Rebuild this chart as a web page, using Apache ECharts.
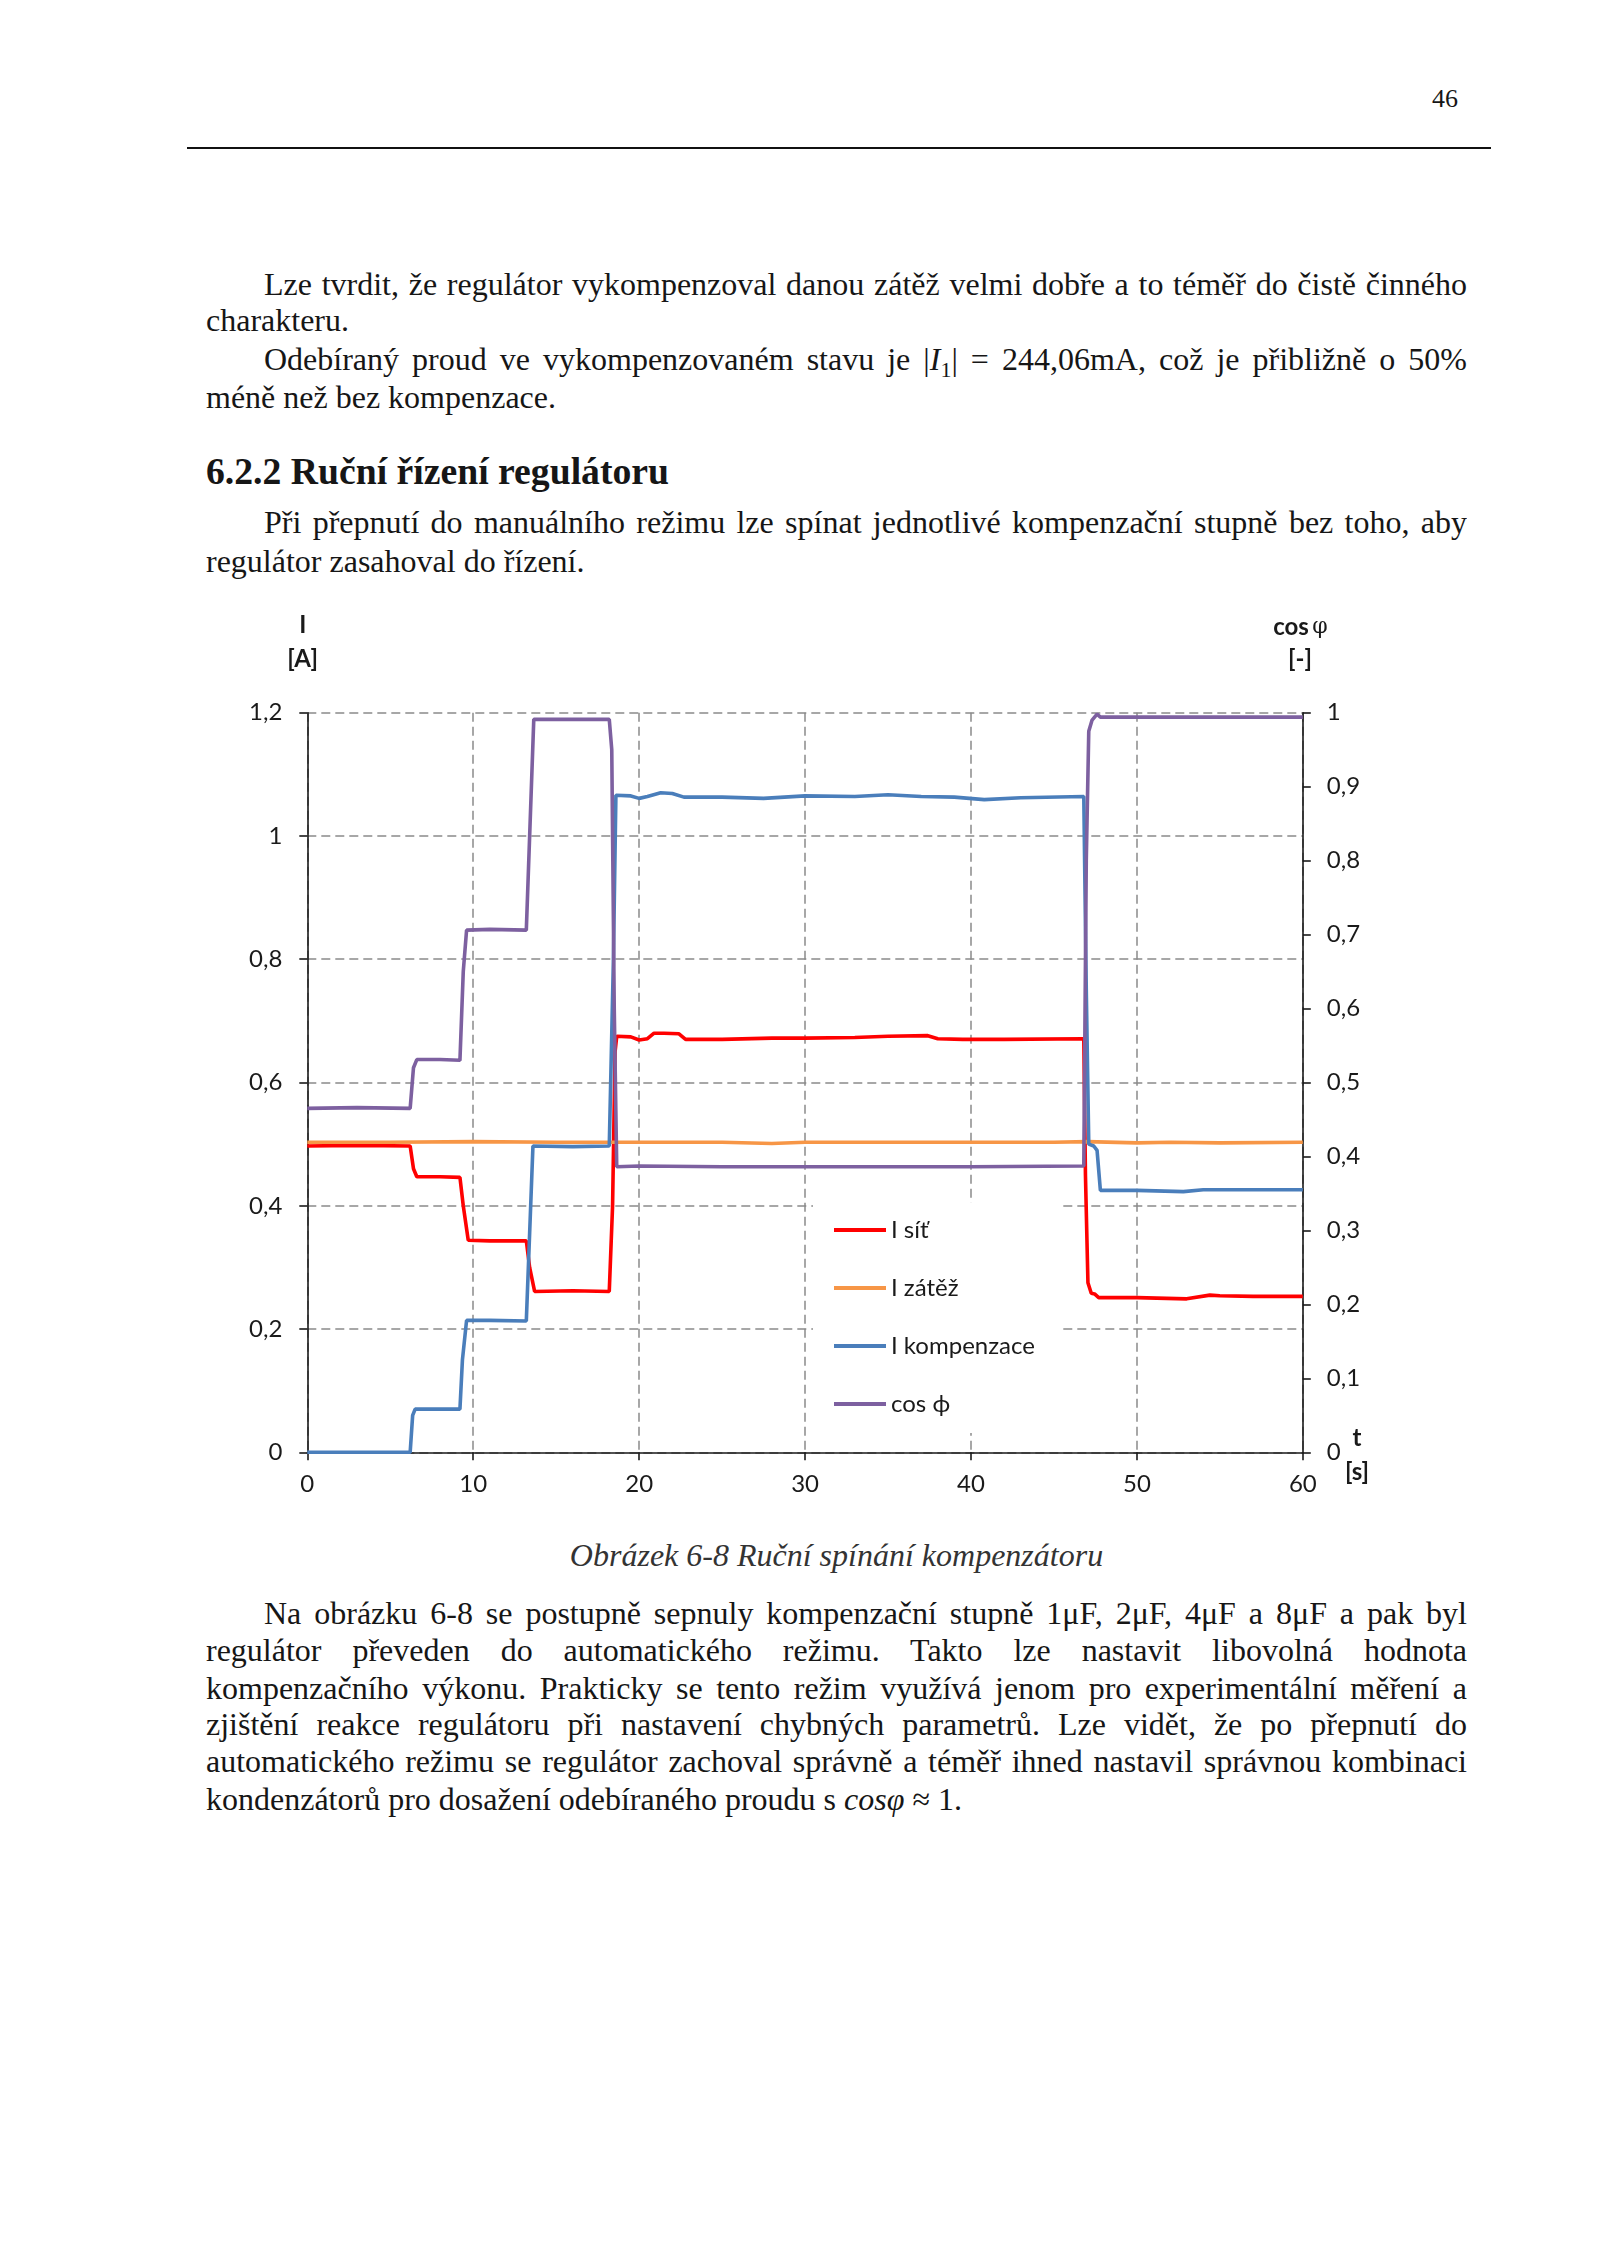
<!DOCTYPE html>
<html><head><meta charset="utf-8">
<script src="https://cdn.jsdelivr.net/npm/echarts@6/dist/echarts.min.js"></script>
<style>
html,body{margin:0;padding:0;background:#fff;}
body{width:1600px;height:2262px;position:relative;overflow:hidden;font-family:'Liberation Serif','Times New Roman',serif;color:#161616;}
.t{position:absolute;font-size:32px;line-height:37px;white-space:nowrap;}
.j{text-align:justify;text-align-last:justify;white-space:normal;overflow:hidden;height:37px;}
.ind{left:264px;width:1203px;}
.full{left:206px;width:1261px;}
.l{left:206px;}
#chart{position:absolute;left:200px;top:580px;width:1250px;height:950px;}
</style></head>
<body>
<div class="t" style="left:1400px;width:58px;text-align:right;top:84px;font-size:26px;line-height:30px;">46</div>
<div style="position:absolute;left:187px;top:147px;width:1304px;height:2px;background:#111;"></div>

<div class="t j ind" style="top:266px;">Lze tvrdit, že regulátor vykompenzoval danou zátěž velmi dobře a to téměř do čistě činného</div>
<div class="t l" style="top:302px;">charakteru.</div>
<div class="t j ind" style="top:341px;">Odebíraný proud ve vykompenzovaném stavu je |<i>I</i><sub style="font-size:22px;line-height:0;">1</sub>| = 244,06mA, což je přibližně o 50%</div>
<div class="t l" style="top:379px;">méně než bez kompenzace.</div>
<div class="t l" style="top:449px;font-weight:bold;font-size:37.7px;line-height:44px;">6.2.2 Ruční řízení regulátoru</div>
<div class="t j ind" style="top:504px;">Při přepnutí do manuálního režimu lze spínat jednotlivé kompenzační stupně bez toho, aby</div>
<div class="t l" style="top:543px;">regulátor zasahoval do řízení.</div>

<div id="chart"></div>

<div class="t" style="left:206px;width:1261px;text-align:center;top:1537px;font-style:italic;color:#333;">Obrázek 6-8 Ruční spínání kompenzátoru</div>

<div class="t j ind" style="top:1595px;">Na obrázku 6-8 se postupně sepnuly kompenzační stupně 1μF, 2μF, 4μF a 8μF a pak byl</div>
<div class="t j full" style="top:1632px;">regulátor převeden do automatického režimu. Takto lze nastavit libovolná hodnota</div>
<div class="t j full" style="top:1670px;">kompenzačního výkonu. Prakticky se tento režim využívá jenom pro experimentální měření a</div>
<div class="t j full" style="top:1706px;">zjištění reakce regulátoru při nastavení chybných parametrů. Lze vidět, že po přepnutí do</div>
<div class="t j full" style="top:1743px;">automatického režimu se regulátor zachoval správně a téměř ihned nastavil správnou kombinaci</div>
<div class="t l" style="top:1781px;">kondenzátorů pro dosažení odebíraného proudu s <i>cosφ</i> ≈ 1.</div>

<script>
// ---- data ----
const seriesNames = ['I síť', 'I zátěž', 'I kompenzace', 'cos ϕ'];
const xTicks = [0, 10, 20, 30, 40, 50, 60];
const leftTicks = [0, 0.2, 0.4, 0.6, 0.8, 1, 1.2];
const rightTicks = [0, 0.1, 0.2, 0.3, 0.4, 0.5, 0.6, 0.7, 0.8, 0.9, 1];

const tSit = [0, 3, 6.2, 6.4, 6.6, 8, 9.2, 9.4, 9.7, 11, 13.2, 13.4, 13.7, 16, 18.2, 18.4, 18.55, 18.65, 19.5, 20, 20.5, 20.9, 21.5, 22.4, 22.8, 25, 28, 30, 33, 35, 37.4, 38, 39.5, 42, 46.8, 46.9, 47.05, 47.25, 47.45, 47.7, 50, 53, 54.4, 55, 57, 60];
const iSit = [0.497, 0.498, 0.497, 0.46, 0.447, 0.447, 0.446, 0.40, 0.344, 0.343, 0.343, 0.30, 0.261, 0.262, 0.261, 0.40, 0.65, 0.675, 0.674, 0.669, 0.671, 0.680, 0.680, 0.679, 0.670, 0.670, 0.672, 0.672, 0.673, 0.675, 0.676, 0.671, 0.670, 0.670, 0.671, 0.45, 0.275, 0.258, 0.257, 0.251, 0.251, 0.249, 0.255, 0.254, 0.253, 0.253];

const tZatez = [0, 5, 10, 15, 20, 25, 28, 30, 35, 40, 45, 47, 50, 52, 55, 60];
const iZatez = [0.503, 0.503, 0.504, 0.503, 0.503, 0.503, 0.501, 0.503, 0.503, 0.503, 0.503, 0.504, 0.502, 0.503, 0.502, 0.503];

const tKomp = [0, 3, 6.2, 6.35, 6.5, 8, 9.2, 9.35, 9.6, 11, 13.2, 13.6, 16, 18.2, 18.45, 18.6, 19.5, 20, 20.5, 21.3, 22, 22.7, 25, 27.5, 30, 33, 35, 37, 39, 40.8, 43, 46.8, 46.95, 47.1, 47.4, 47.6, 47.8, 50, 52.8, 54, 57, 60];
const iKomp = [0, 0, 0, 0.06, 0.070, 0.070, 0.070, 0.15, 0.214, 0.214, 0.213, 0.497, 0.496, 0.497, 0.8, 1.066, 1.065, 1.061, 1.064, 1.070, 1.069, 1.063, 1.063, 1.061, 1.065, 1.064, 1.067, 1.064, 1.063, 1.059, 1.062, 1.064, 0.75, 0.50, 0.497, 0.49, 0.425, 0.425, 0.423, 0.426, 0.426, 0.426];

const tCos = [0, 3, 6.2, 6.4, 6.6, 8, 9.2, 9.4, 9.6, 11, 13.2, 13.65, 16, 18.2, 18.35, 18.5, 18.65, 20, 25, 30, 35, 40, 46.8, 46.95, 47.1, 47.3, 47.6, 47.8, 50, 55, 60];
const cosPhi = [0.465, 0.466, 0.465, 0.52, 0.531, 0.531, 0.530, 0.65, 0.706, 0.707, 0.706, 0.991, 0.991, 0.991, 0.95, 0.6, 0.386, 0.387, 0.386, 0.386, 0.386, 0.386, 0.387, 0.8, 0.975, 0.990, 0.998, 0.994, 0.994, 0.994, 0.994];

const colors = ['#FF0000', '#F79646', '#4A7EBB', '#7D60A0'];

// ---- chart ----
const zip = (xs, ys) => xs.map((x, i) => [x, ys[i]]);
const fmt = v => String(+(+v).toFixed(2)).replace('.', ',');
const FONT = 'Lato';
const chart = echarts.init(document.getElementById('chart'), null, {renderer: 'canvas'});
const gridDash = {color: '#8a8a8a', width: 1.5, type: [9, 5]};
const axisLineStyle = {color: '#1a1a1a', width: 1.6};
const labelStyle = {color: '#1a1a1a', fontFamily: FONT, fontSize: 24};

function mkSeries(name, data, color, yIndex) {
  return {name, type: 'line', data, yAxisIndex: yIndex, showSymbol: false, symbol: 'none',
    lineStyle: {color, width: 3.6}, itemStyle: {color}, animation: false, clip: true};
}

chart.setOption({
  animation: false,
  backgroundColor: 'transparent',
  grid: {left: 107.3, right: 147.2, top: 132.7, bottom: 77.7, containLabel: false},
  xAxis: {
    type: 'value', min: xTicks[0], max: xTicks[xTicks.length - 1], interval: xTicks[1] - xTicks[0],
    axisLine: {show: true, lineStyle: axisLineStyle, onZero: false},
    axisTick: {show: true, inside: false, length: 8, lineStyle: axisLineStyle},
    axisLabel: Object.assign({margin: 20, formatter: fmt}, labelStyle),
    splitLine: {show: true, lineStyle: gridDash}
  },
  yAxis: [
    {type: 'value', position: 'left', min: leftTicks[0], max: leftTicks[leftTicks.length - 1], interval: 0.2,
      axisLine: {show: true, lineStyle: axisLineStyle, onZero: false},
      axisTick: {show: true, inside: false, length: 8, lineStyle: axisLineStyle},
      axisLabel: Object.assign({margin: 25, formatter: fmt}, labelStyle),
      splitLine: {show: true, lineStyle: gridDash}},
    {type: 'value', position: 'right', min: rightTicks[0], max: rightTicks[rightTicks.length - 1], interval: 0.1,
      axisLine: {show: true, lineStyle: axisLineStyle, onZero: false},
      axisTick: {show: true, inside: false, length: 8, lineStyle: axisLineStyle},
      axisLabel: Object.assign({margin: 24, formatter: fmt}, labelStyle),
      splitLine: {show: false}}
  ],
  legend: {
    show: true, orient: 'vertical', left: 613, top: 622.6,
    padding: [15.4, 25, 17, 21], backgroundColor: '#fff',
    icon: 'rect', itemWidth: 52, itemHeight: 4, itemGap: 34, selectedMode: false,
    textStyle: {color: '#1a1a1a', fontFamily: FONT, fontSize: 24, lineHeight: 24, padding: [0, 0, 0, 0]},
    data: seriesNames
  },
  graphic: [
    {type: 'text', x: 102.7, y: 45, style: {text: 'I', font: 'bold 24px Lato', fill: '#1a1a1a', align: 'center', verticalAlign: 'middle'}},
    {type: 'text', x: 102.7, y: 79, style: {text: '[A]', font: 'bold 24px Lato', fill: '#1a1a1a', align: 'center', verticalAlign: 'middle'}},
    {type: 'text', x: 1100.4, y: 47, style: {text: '{b|cos} {p|φ}', align: 'center', verticalAlign: 'middle', fill: '#1a1a1a',
      rich: {b: {fontFamily: FONT, fontWeight: 'bold', fontSize: 24, fill: '#1a1a1a'}, p: {fontFamily: 'DejaVu Serif', fontSize: 22, fill: '#1a1a1a'}}}},
    {type: 'text', x: 1100, y: 79, style: {text: '[-]', font: 'bold 24px Lato', fill: '#1a1a1a', align: 'center', verticalAlign: 'middle'}},
    {type: 'text', x: 1157, y: 858, style: {text: 't', font: 'bold 24px Lato', fill: '#1a1a1a', align: 'center', verticalAlign: 'middle'}},
    {type: 'text', x: 1157, y: 892, style: {text: '[s]', font: 'bold 24px Lato', fill: '#1a1a1a', align: 'center', verticalAlign: 'middle'}}
  ],
  series: [
    mkSeries(seriesNames[0], zip(tSit, iSit), colors[0], 0),
    mkSeries(seriesNames[1], zip(tZatez, iZatez), colors[1], 0),
    mkSeries(seriesNames[2], zip(tKomp, iKomp), colors[2], 0),
    mkSeries(seriesNames[3], zip(tCos, cosPhi), colors[3], 1)
  ]
});
</script>
</body></html>
